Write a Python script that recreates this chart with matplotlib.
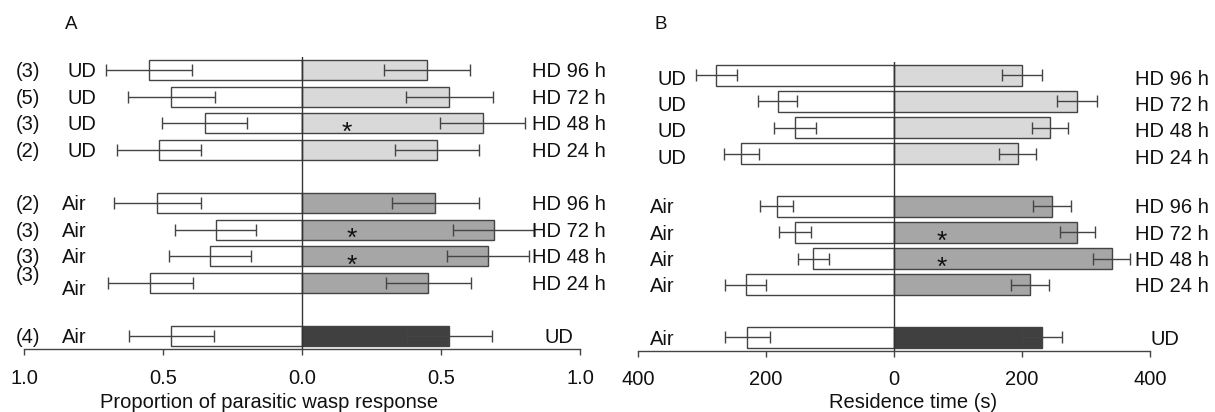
import matplotlib
matplotlib.use("Agg")
import matplotlib.pyplot as plt

plt.rcParams["font.family"] = ["Liberation Sans", "DejaVu Sans"]

# rows from top; gaps between the three groups
rows = [0, 1, 2, 3, 5, 6, 7, 8, 10]
left_labels = ["UD", "UD", "UD", "UD", "Air", "Air", "Air", "Air", "Air"]
right_labels = ["HD 96 h", "HD 72 h", "HD 48 h", "HD 24 h",
                "HD 96 h", "HD 72 h", "HD 48 h", "HD 24 h", "UD"]
n_labels = ["(3)", "(5)", "(3)", "(2)", "(2)", "(3)", "(3)", "(3)", "(4)"]

# panel A: proportion of parasitic wasp response
prop_left = [0.55, 0.47, 0.35, 0.515, 0.52, 0.31, 0.33, 0.545, 0.47]
prop_right = [0.45, 0.53, 0.65, 0.485, 0.48, 0.69, 0.67, 0.455, 0.53]
prop_err = [0.155, 0.156, 0.153, 0.15, 0.155, 0.146, 0.147, 0.154, 0.154]
prop_star_rows = [2, 6, 7]
prop_star_x = [0.16, 0.18, 0.18]

# panel B: residence time (s)
time_left = [277.5, 182, 155, 238.6, 183.5, 154.5, 126, 232, 229]
time_left_err = [31.6, 30.4, 32.8, 27.1, 25.6, 25, 24.1, 32.2, 35]
time_right = [199.5, 286, 243.4, 193, 247, 286.7, 340.2, 212.5, 230.7]
time_right_err = [31, 31.6, 28.3, 28.3, 29.2, 27.7, 29.2, 29.5, 31.3]
time_star_rows = [6, 7]
time_star_x = [75, 75]

right_colors = ["#d9d9d9"] * 4 + ["#a6a6a6"] * 4 + ["#404040"]

W, H = 1215, 412
fig = plt.figure(figsize=(W / 100, H / 100), dpi=100)

FS = 14.5
STAR_FS = 19
EDGE = "#444444"


def px_axes(x0, x1, y_top, y_bot):
    return fig.add_axes([x0 / W, 1 - y_bot / H, (x1 - x0) / W, (y_bot - y_top) / H])


def draw_panel(ax, left, lerr, right, rerr, bar_h):
    ax.barh(rows, [-v for v in left], height=bar_h, color="white",
            edgecolor=EDGE, linewidth=1, zorder=2)
    ax.barh(rows, right, height=bar_h, color=right_colors,
            edgecolor=EDGE, linewidth=1, zorder=2)
    ax.errorbar([-v for v in left], rows, xerr=lerr, fmt="none", ecolor=EDGE,
                elinewidth=1, capsize=4, capthick=1, zorder=3)
    ax.errorbar(right, rows, xerr=rerr, fmt="none", ecolor=EDGE,
                elinewidth=1, capsize=4, capthick=1, zorder=3)
    ax.axvline(0, color="#333333", linewidth=1, zorder=4)
    ax.set_ylim(10.5, -0.5)
    for s in ["left", "right", "top"]:
        ax.spines[s].set_visible(False)
    ax.spines["bottom"].set_color(EDGE)
    ax.spines["bottom"].set_linewidth(1)
    ax.set_yticks([])
    ax.tick_params(axis="x", length=4, width=1, color=EDGE, pad=10,
                   labelsize=FS, labelcolor="#111111")
    ax.set_facecolor("none")


# ---- panel A ----
axA = px_axes(24, 580, 56.7, 349.3)
draw_panel(axA, prop_left, prop_err, prop_right, prop_err, 0.75)
axA.set_xlim(-1, 1)
axA.set_xticks([-1, -0.5, 0, 0.5, 1])
axA.set_xticklabels(["1.0", "0.5", "0.0", "0.5", "1.0"])

offA = 7.2 / 26.6
for i, r in enumerate(rows):
    ny = r + offA
    ly = r + offA
    if i == 7:
        ny, ly = r - 0.35 + offA, r + 0.2 + offA
    axA.text(-1.029, ny, n_labels[i], fontsize=FS, va="baseline", color="#111111")
    lx = -0.845 if left_labels[i] == "UD" else -0.863
    axA.text(lx, ly, left_labels[i], fontsize=FS, va="baseline", color="#111111")
    rx = 0.827 if right_labels[i] != "UD" else 0.874
    axA.text(rx, r + offA, right_labels[i], fontsize=FS, va="baseline", color="#111111")
for r, x in zip(prop_star_rows, prop_star_x):
    axA.text(x, r + 0.05 + 15 / 26.6, "*", fontsize=STAR_FS, ha="center",
             va="baseline", color="#111111", zorder=5)

# ---- panel B ----
axB = px_axes(638, 1150, 61.9, 350.6)
draw_panel(axB, time_left, time_left_err, time_right, time_right_err, 0.8)
axB.set_xlim(-400, 400)
axB.set_xticks([-400, -200, 0, 200, 400])
axB.set_xticklabels(["400", "200", "0", "200", "400"])

offB = 7.2 / 26.25
for i, r in enumerate(rows):
    dy = 0.1 if i < 4 else 0.0
    lx = -370 if left_labels[i] == "UD" else -381
    axB.text(lx, r + dy + offB, left_labels[i], fontsize=FS, va="baseline", color="#111111")
    rx = 376.6 if right_labels[i] != "UD" else 400
    axB.text(rx, r + dy + offB, right_labels[i], fontsize=FS, va="baseline", color="#111111")
for r, x in zip(time_star_rows, time_star_x):
    axB.text(x, r + 0.05 + 15 / 26.25, "*", fontsize=STAR_FS, ha="center",
             va="baseline", color="#111111", zorder=5)

# panel letters and axis titles
fig.text(65 / W, 1 - 29 / H, "A", fontsize=13.5, va="baseline", color="#111111")
fig.text(655 / W, 1 - 29 / H, "B", fontsize=13.5, va="baseline", color="#111111")
fig.text(269 / W, 1 - 408 / H, "Proportion of parasitic wasp response",
         fontsize=FS, ha="center", va="baseline", color="#111111")
fig.text(913 / W, 1 - 408 / H, "Residence time (s)",
         fontsize=FS, ha="center", va="baseline", color="#111111")

fig.savefig("out.png", dpi=100)
